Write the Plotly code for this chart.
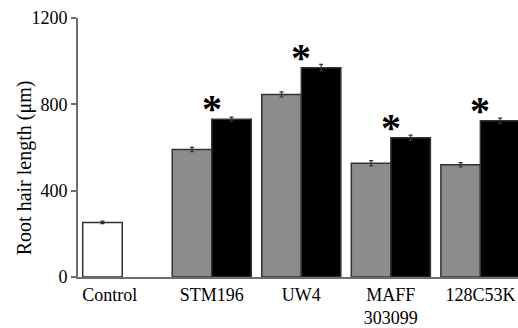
import plotly.graph_objects as go

categories = ["Control", "STM196", "UW4", "MAFF<br>303099", "128C53K"]
gray_values = [253, 591, 846, 527, 520]
gray_errors = [6, 10, 12, 12, 10]
black_values = [None, 731, 970, 645, 724]
black_errors = [None, 10, 15, 12, 12]
significant = [False, True, True, True, True]
label_positions = [-0.14, 1, 2, 3, 4]
y_ticks = [0, 400, 800, 1200]

GRAY = "#8c8c8c"
EDGE = "#333333"
AXIS = "#6e6e6e"
FONT = "Liberation Serif"

x = list(range(len(categories)))
fill1 = ["white"] + [GRAY] * (len(categories) - 1)

fig = go.Figure()
fig.add_trace(go.Bar(
    x=x, y=gray_values,
    marker=dict(color=fill1, line=dict(color=EDGE, width=1.5)),
    error_y=dict(type="data", array=gray_errors, color=EDGE, thickness=1.2, width=2),
    showlegend=False,
))
fig.add_trace(go.Bar(
    x=x, y=black_values,
    marker=dict(color="black", line=dict(color=EDGE, width=1.5)),
    error_y=dict(type="data", array=black_errors, color=EDGE, thickness=1.2, width=2),
    showlegend=False,
))

star_x = [i for i, s in zip(x, significant) if s]
star_y = [black_values[i] for i, s in zip(x, significant) if s]
for sx, sy in zip(star_x, star_y):
    fig.add_annotation(
        x=sx, y=sy, xref="x", yref="y", text="<b>*</b>", showarrow=False,
        xanchor="center", yanchor="bottom", yshift=-14,
        font=dict(family=FONT, size=40, color="black"),
    )

fig.add_annotation(
    text="Root hair length (μm)", textangle=-90,
    xref="paper", yref="paper", x=(24 - 78) / 440, y=0.42,
    xanchor="center", yanchor="middle", showarrow=False,
    font=dict(family=FONT, size=20, color="black"),
)

fig.update_layout(
    width=518, height=328,
    margin=dict(l=78, r=0, t=18, b=44),
    paper_bgcolor="white", plot_bgcolor="white",
    barmode="group", bargap=0.117, bargroupgap=0,
    font=dict(family=FONT, size=18, color="black"),
    xaxis=dict(
        range=[-0.494, 4.42], tickvals=label_positions, ticktext=categories,
        showgrid=False, zeroline=False, showline=True, linecolor=AXIS, linewidth=2,
        ticks="", tickfont=dict(family=FONT, size=18, color="black"),
    ),
    yaxis=dict(
        range=[0, 1200], tickvals=y_ticks, showgrid=False, zeroline=False,
        showline=True, linecolor=AXIS, linewidth=2,
        ticks="outside", ticklen=5, tickwidth=1.5, tickcolor=AXIS,
        tickfont=dict(family=FONT, size=18, color="black"),
    ),
)

fig.write_html("out.html")
